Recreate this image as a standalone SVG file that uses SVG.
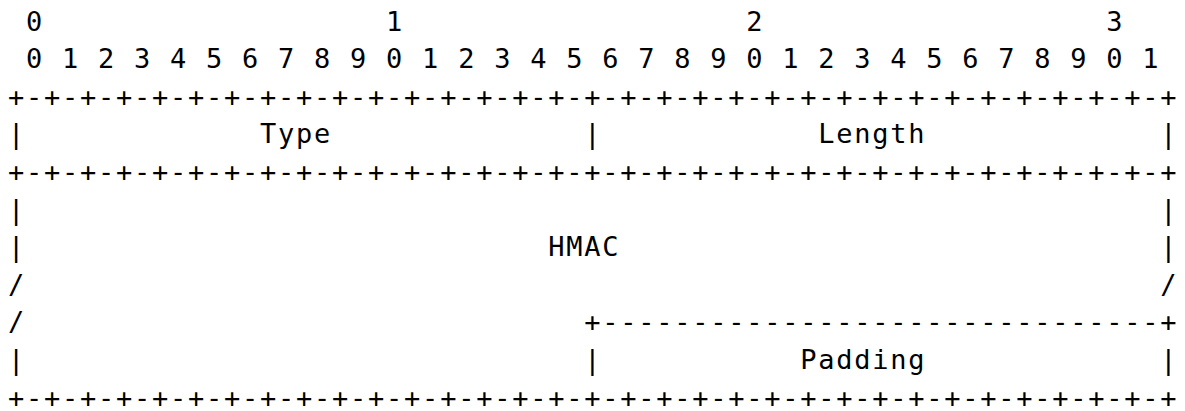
<svg xmlns="http://www.w3.org/2000/svg" width="1185" height="411" viewBox="0 0 1185 411">
<style>
text{font-family:"DejaVu Sans Mono","Liberation Mono",monospace;font-size:27px;letter-spacing:1.75px;fill:#000;white-space:pre}
</style>
<rect width="1185" height="411" fill="#fff"/>
<g id="diagram" xml:space="preserve">
<text x="8" y="30.5"> 0                   1                   2                   3</text>
<text x="8" y="68.1"> 0 1 2 3 4 5 6 7 8 9 0 1 2 3 4 5 6 7 8 9 0 1 2 3 4 5 6 7 8 9 0 1</text>
<text x="8" y="105.7">+-+-+-+-+-+-+-+-+-+-+-+-+-+-+-+-+-+-+-+-+-+-+-+-+-+-+-+-+-+-+-+-+</text>
<text x="8" y="143.3">|             Type              |            Length             |</text>
<text x="8" y="180.9">+-+-+-+-+-+-+-+-+-+-+-+-+-+-+-+-+-+-+-+-+-+-+-+-+-+-+-+-+-+-+-+-+</text>
<text x="8" y="218.5">|                                                               |</text>
<text x="8" y="256.1">|                             HMAC                              |</text>
<text x="8" y="293.7">/                                                               /</text>
<text x="8" y="331.3">/                               +-------------------------------+</text>
<text x="8" y="368.9">|                               |           Padding             |</text>
<text x="8" y="406.5">+-+-+-+-+-+-+-+-+-+-+-+-+-+-+-+-+-+-+-+-+-+-+-+-+-+-+-+-+-+-+-+-+</text>
</g>
</svg>
